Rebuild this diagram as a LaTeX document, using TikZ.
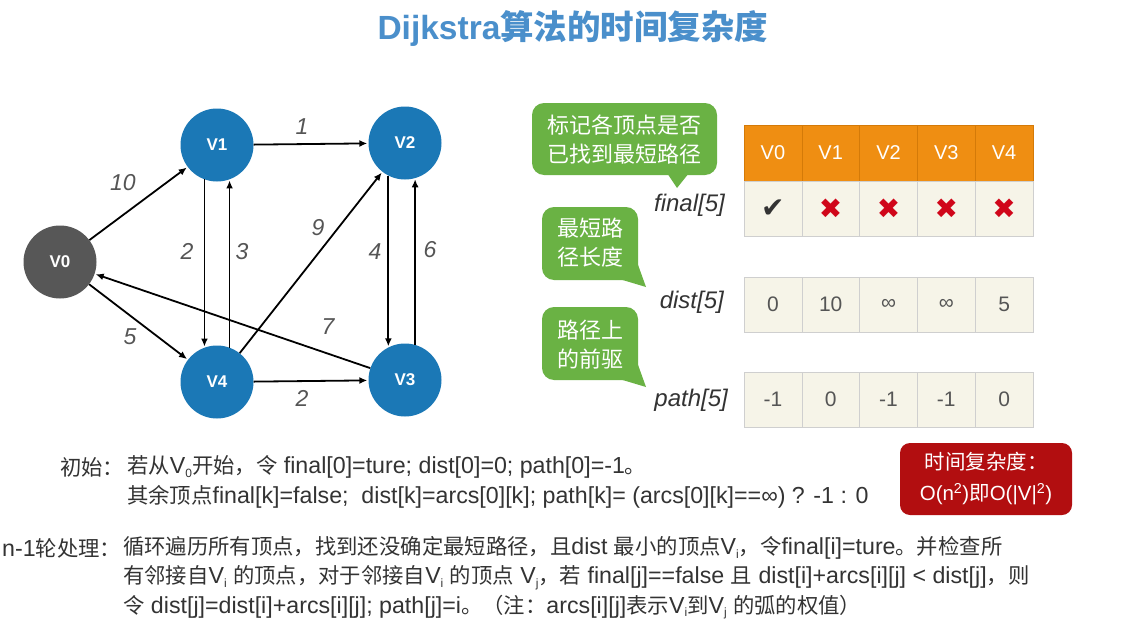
\documentclass[tikz,border=0pt]{standalone}
\usepackage{fontspec}
\setmainfont{Liberation Sans}
\newfontfamily\cjkf{Noto Sans CJK SC}
\newfontfamily\cjkb[Scale=0.92]{Noto Sans CJK SC}
\newfontfamily\symf{DejaVu Sans}
\usetikzlibrary{arrows.meta}
\newcommand\zh[1]{{\cjkb #1}}
\newcommand\zhn[1]{{\cjkf #1}}
\newcommand\mysub[1]{\raisebox{-0.3ex}{\fontsize{12}{12}\selectfont #1}}
\definecolor{nodeblue}{HTML}{1B78B6}
\definecolor{nodegray}{HTML}{575757}
\definecolor{lblgray}{HTML}{555555}
\definecolor{titleblue}{HTML}{4A8FCB}
\definecolor{callgreen}{HTML}{6AB244}
\definecolor{hdrorange}{HTML}{EF8E12}
\definecolor{hdrline}{HTML}{D47A08}
\definecolor{cellfill}{HTML}{F6F4E8}
\definecolor{cellline}{HTML}{CFCFCF}
\definecolor{boxred}{HTML}{B20E10}
\definecolor{crossred}{HTML}{D0061A}
\definecolor{txtgray}{HTML}{333333}
\tikzset{
  vtx/.style={circle, fill=nodeblue, minimum size=73pt, inner sep=0pt, text=white, font=\fontsize{17}{20}\selectfont\bfseries},
  edge/.style={line width=1.8pt, -{Latex[length=8pt,width=7pt]}, shorten >=1pt},
  lbl/.style={text=lblgray, font=\fontsize{23}{26}\selectfont\itshape, inner sep=0pt},
  hdr/.style={rectangle, draw=hdrline, fill=hdrorange, minimum width=57.8pt, minimum height=56pt, inner sep=0pt, text=white, font=\fontsize{20}{22}\selectfont},
  cell/.style={rectangle, draw=cellline, fill=cellfill, minimum width=57.8pt, minimum height=55pt, inner sep=0pt, text=lblgray, font=\fontsize{21}{24}\selectfont},
  arrlbl/.style={anchor=east, text=txtgray, font=\fontsize{24}{28}\selectfont\itshape, inner sep=0pt},
  calltxt/.style={text=white, font=\fontsize{22}{29}\selectfont\cjkf, align=center, inner sep=0pt},
  txt/.style={anchor=west, text=txtgray, font=\fontsize{23.2}{26}\selectfont, inner sep=0pt},
}
\begin{document}
\begin{tikzpicture}[x=1pt, y=-1pt]
\useasboundingbox (0,0) rectangle (1122,626);
\fill[white] (0,0) rectangle (1122,626);

% title
\node[text=titleblue, font=\fontsize{33.5}{36}\selectfont\bfseries] (title) at (573,28) {Dijkstra\zhn{算法的时间复杂度}};

% graph
\node[vtx, fill=nodegray] (V0) at (60,262) {V0};
\node[vtx] (V1) at (217,145) {V1};
\node[vtx] (V2) at (405,143) {V2};
\node[vtx] (V4) at (217,382) {V4};
\node[vtx] (V3) at (405,380) {V3};

\draw[edge] (V0) -- (V1);
\draw[edge] (V1) -- (V2);
\draw[edge] (V1.250) -- (V4.110);
\draw[edge] (V4.70) -- (V1.290);
\draw[edge] (V4) -- (V2);
\draw[edge] (V2.243) -- (V3.117);
\draw[edge] (V3.74) -- (V2.286);
\draw[edge] (V3) -- (V0);
\draw[edge] (V0) -- (V4);
\draw[edge] (V4) -- (V3);

\node[lbl] (l01) at (123,183) {10};
\node[lbl] (l12) at (302,127) {1};
\node[lbl] (l14) at (187,251) {2};
\node[lbl] (l41) at (242,252) {3};
\node[lbl] (l42) at (318,228) {9};
\node[lbl] (l23) at (375,252) {4};
\node[lbl] (l32) at (430,250) {6};
\node[lbl] (l30) at (328,327) {7};
\node[lbl] (l04) at (130,337) {5};
\node[lbl] (l43) at (302,398) {2};

% callouts
\fill[callgreen, rounded corners=12pt] (532,103) rectangle (717,175);
\fill[callgreen] (667,173) -- (689,173) -- (677,188) -- cycle;
\node[calltxt] (c1) at (624,140) {标记各顶点是否\\已找到最短路径};

\fill[callgreen, rounded corners=12pt] (542,207) rectangle (638,280);
\fill[callgreen] (616,278) -- (637,262) -- (646,287) -- cycle;
\node[calltxt] (c2) at (590,243) {最短路\\径长度};

\fill[callgreen, rounded corners=12pt] (542,307) rectangle (638,380);
\fill[callgreen] (616,378) -- (637,362) -- (646,387) -- cycle;
\node[calltxt] (c3) at (590,345) {路径上\\的前驱};

% tables
\foreach \i/\v in {0/V0,1/V1,2/V2,3/V3,4/V4}{
  \node[hdr] (h\i) at (772.9+57.8*\i,153) {\v};
}
\node[cell] (f0) at (772.9,208.5) {\textcolor{txtgray}{\symf\fontsize{28}{30}\selectfont ✔}};
\foreach \i in {1,2,3,4}{
  \node[cell] (f\i) at (772.9+57.8*\i,208.5) {\textcolor{crossred}{\symf\fontsize{28}{30}\selectfont ✖}};
}
\foreach \i/\v in {0/0,1/10,2/∞,3/∞,4/5}{
  \node[cell] (d\i) at (772.9+57.8*\i,304.5) {\v};
}
\foreach \i/\v in {0/-1,1/0,2/-1,3/-1,4/0}{
  \node[cell] (p\i) at (772.9+57.8*\i,399.5) {\v};
}
\node[arrlbl] (fl) at (725,205) {final[5]};
\node[arrlbl] (dl) at (724,302) {dist[5]};
\node[arrlbl] (pl) at (728,400) {path[5]};

% red box
\node[rectangle, rounded corners=10pt, fill=boxred, minimum width=172pt, minimum height=72pt, text=white, align=center, font=\fontsize{20.5}{31}\selectfont] (red) at (986,479) {\zhn{时间复杂度：}\\O(n\textsuperscript{2})\zhn{即}O(|V|\textsuperscript{2})};

% bottom text
\node[txt] (i0) at (60,467) {\zh{初始：}};
\node[txt] (i1) at (127,467) {\zh{若从}V\mysub{0}\zh{开始，令} final[0]=ture; dist[0]=0; path[0]=-1\zh{。}};
\node[txt] (i2) at (127,497) {\zh{其余顶点}final[k]=false;\ \ dist[k]=arcs[0][k]; path[k]= (arcs[0][k]==∞) ? -1 : 0};

\node[txt] (n0) at (2,548) {n-1\zh{轮处理：}};
\node[txt] (n1) at (123,548) {\zh{循环遍历所有顶点，找到还没确定最短路径，且}dist \zh{最小的顶点}V\mysub{i}\zh{，令}final[i]=ture\zh{。并检查所}};
\node[txt] (n2) at (123,578) {\zh{有邻接自}V\mysub{i} \zh{的顶点，对于邻接自}V\mysub{i} \zh{的顶点} V\mysub{j}\zh{，若} final[j]==false \zh{且} dist[i]+arcs[i][j] < dist[j]\zh{，则}};
\node[txt] (n3) at (123,607) {\zh{令} dist[j]=dist[i]+arcs[i][j]; path[j]=i\zh{。（注：}arcs[i][j]\zh{表示}V\mysub{i}\zh{到}V\mysub{j} \zh{的弧的权值）}};
\end{tikzpicture}
\end{document}
